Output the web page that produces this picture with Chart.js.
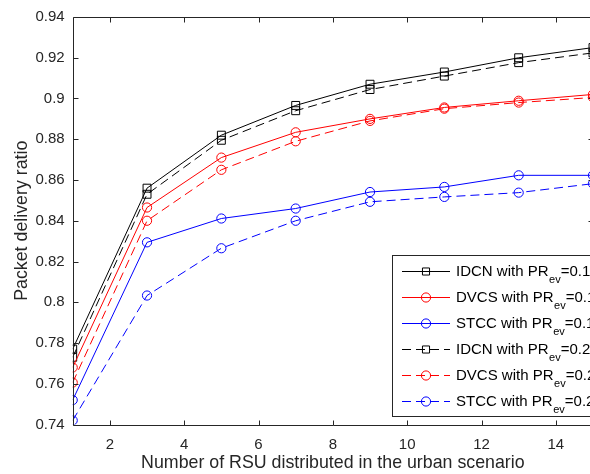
<!DOCTYPE html>
<html>
<head>
<meta charset="utf-8">
<script src="https://cdn.jsdelivr.net/npm/chart.js@4/dist/chart.umd.min.js"></script>
<style>
  html, body { margin: 0; padding: 0; background: #fff; overflow: hidden; }
  #wrap { width: 600px; height: 474px; }
</style>
</head>
<body>
<div id="wrap"><canvas id="pdrChart" width="600" height="474"></canvas></div>
<script>
// number of RSU
var rsuCounts = [1, 3, 5, 7, 9, 11, 13, 15];

// packet delivery ratio, PR_ev = 0.1
var idcn01 = [0.777, 0.856, 0.882, 0.8966, 0.907, 0.913, 0.920, 0.925];
var dvcs01 = [0.768, 0.8465, 0.871, 0.8834, 0.890, 0.8956, 0.8989, 0.902];
var stcc01 = [0.752, 0.8294, 0.8411, 0.846, 0.8541, 0.8566, 0.8623, 0.8623];

// packet delivery ratio, PR_ev = 0.2
var idcn02 = [0.773, 0.853, 0.8795, 0.894, 0.9044, 0.911, 0.9176, 0.9224];
var dvcs02 = [0.7606, 0.840, 0.865, 0.879, 0.889, 0.895, 0.898, 0.9005];
var stcc02 = [0.742, 0.8033, 0.8265, 0.840, 0.8493, 0.8517, 0.8538, 0.8582];

var xTicks = [2, 4, 6, 8, 10, 12, 14];
var yTicks = [0.74, 0.76, 0.78, 0.8, 0.82, 0.84, 0.86, 0.88, 0.9, 0.92, 0.94];

var seriesNames = ['IDCN', 'DVCS', 'STCC', 'IDCN', 'DVCS', 'STCC'];
var seriesPR = ['0.1', '0.1', '0.1', '0.2', '0.2', '0.2'];
var seriesColors = ['#000000', '#ff0000', '#0000ff', '#000000', '#ff0000', '#0000ff'];
var seriesMarkers = ['rect', 'circle', 'circle', 'rect', 'circle', 'circle'];
var seriesDashed = [false, false, false, true, true, true];

var axisColor = '#262626';
var fontFamily = '"Liberation Sans", Arial, sans-serif';
var dash = [9, 5];

function pts(arr) {
    return arr.map(function (v, i) { return { x: rsuCounts[i], y: v }; });
}

function makeSet(values, idx) {
    var color = seriesColors[idx];
    var style = seriesMarkers[idx];
    return {
        label: seriesNames[idx] + ' with PR_ev=' + seriesPR[idx],
        data: pts(values),
        borderColor: color,
        backgroundColor: 'rgba(0,0,0,0)',
        borderWidth: 1,
        borderDash: seriesDashed[idx] ? dash : [],
        pointStyle: style,
        pointRadius: style === 'rect' ? 5.6 : 4.6,
        pointBorderWidth: 1,
        pointBorderColor: color,
        pointBackgroundColor: 'rgba(0,0,0,0)',
        tension: 0
    };
}

var datasets = [
    makeSet(idcn01, 0),
    makeSet(dvcs01, 1),
    makeSet(stcc01, 2),
    makeSet(idcn02, 3),
    makeSet(dvcs02, 4),
    makeSet(stcc02, 5)
];

// frame + inward ticks, like the matlab box
var framePlugin = {
    id: 'frame',
    afterDatasetsDraw: function (chart) {
        var ctx = chart.ctx, a = chart.chartArea;
        var xs = chart.scales.x, ys = chart.scales.y;
        ctx.save();
        ctx.strokeStyle = axisColor;
        ctx.lineWidth = 1;
        ctx.beginPath();
        var L = Math.round(a.left) + 0.5, R = Math.round(a.right) + 0.5;
        var T = Math.round(a.top) + 0.5, B = Math.round(a.bottom) + 0.5;
        ctx.rect(L, T, R - L, B - T);
        xTicks.forEach(function (v) {
            var px = Math.round(xs.getPixelForValue(v)) + 0.5;
            ctx.moveTo(px, B); ctx.lineTo(px, B - 5);
            ctx.moveTo(px, T); ctx.lineTo(px, T + 5);
        });
        yTicks.forEach(function (v) {
            var py = Math.round(ys.getPixelForValue(v)) + 0.5;
            ctx.moveTo(L, py); ctx.lineTo(L + 5, py);
            ctx.moveTo(R, py); ctx.lineTo(R - 5, py);
        });
        ctx.stroke();
        ctx.restore();
    }
};

// legend drawn by hand because of the PR_ev subscript
var legendPlugin = {
    id: 'subLegend',
    afterDraw: function (chart) {
        var ctx = chart.ctx;
        var box = { left: 392.5, top: 255.5, right: 640, bottom: 416.5 };
        ctx.save();
        ctx.fillStyle = '#ffffff';
        ctx.fillRect(box.left, box.top, box.right - box.left, box.bottom - box.top);
        ctx.strokeStyle = axisColor;
        ctx.lineWidth = 1;
        ctx.strokeRect(box.left, box.top, box.right - box.left, box.bottom - box.top);

        for (var i = 0; i < seriesNames.length; i++) {
            var y = 271.5 + i * 26;
            var col = seriesColors[i];
            ctx.lineWidth = 1;
            ctx.strokeStyle = col;
            ctx.setLineDash(seriesDashed[i] ? dash : []);
            ctx.beginPath();
            ctx.moveTo(402, y);
            ctx.lineTo(450, y);
            ctx.stroke();
            ctx.setLineDash([]);
            ctx.strokeStyle = col;
            ctx.fillStyle = 'rgba(0,0,0,0)';
            Chart.helpers.drawPoint(ctx, {
                pointStyle: seriesMarkers[i],
                radius: seriesMarkers[i] === 'rect' ? 5 : 4.6,
                borderWidth: 1
            }, 426, y);

            ctx.fillStyle = '#000000';
            ctx.textBaseline = 'middle';
            ctx.textAlign = 'left';
            ctx.font = '15px ' + fontFamily;
            var main = seriesNames[i] + ' with PR';
            var tx = 456;
            ctx.fillText(main, tx, y);
            tx += ctx.measureText(main).width;
            ctx.font = '11px ' + fontFamily;
            ctx.fillText('ev', tx + 0.5, y + 8);
            tx += ctx.measureText('ev').width + 0.5;
            ctx.font = '15px ' + fontFamily;
            ctx.fillText('=' + seriesPR[i], tx, y);
        }
        ctx.restore();
    }
};

var ctx = document.getElementById('pdrChart').getContext('2d');

var pdrChart = new Chart(ctx, {
    type: 'line',
    data: { datasets: datasets },
    options: {
        responsive: false,
        animation: false,
        layout: { padding: { left: 11, right: 7, top: 14, bottom: 0 } },
        plugins: {
            legend: { display: false },
            tooltip: { enabled: false }
        },
        scales: {
            x: {
                type: 'linear',
                min: 1,
                max: 15,
                grid: { display: false, drawTicks: false },
                border: { display: false },
                afterBuildTicks: function (scale) {
                    scale.ticks = xTicks.map(function (v) { return { value: v }; });
                },
                afterFit: function (scale) { scale.height = 49.5; },
                ticks: {
                    padding: 11,
                    maxRotation: 0,
                    color: axisColor,
                    font: { family: fontFamily, size: 15 },
                    callback: function (v) { return String(v); }
                },
                title: {
                    display: true,
                    text: 'Number of RSU distributed in the urban scenario',
                    color: axisColor,
                    font: { family: fontFamily, size: 17.8 },
                    padding: { top: 0, bottom: 0 }
                }
            },
            y: {
                type: 'linear',
                min: 0.74,
                max: 0.94,
                grid: { display: false, drawTicks: false },
                border: { display: false },
                afterBuildTicks: function (scale) {
                    scale.ticks = yTicks.map(function (v) { return { value: v }; });
                },
                afterFit: function (scale) { scale.width = 61.7; },
                ticks: {
                    padding: 8,
                    color: axisColor,
                    font: { family: fontFamily, size: 15 },
                    callback: function (v) { return String(+v.toFixed(2)); }
                },
                title: {
                    display: true,
                    text: 'Packet delivery ratio',
                    color: axisColor,
                    font: { family: fontFamily, size: 17.8 },
                    padding: { top: 0, bottom: 0 }
                }
            }
        }
    },
    plugins: [framePlugin, legendPlugin]
});
</script>
</body>
</html>
